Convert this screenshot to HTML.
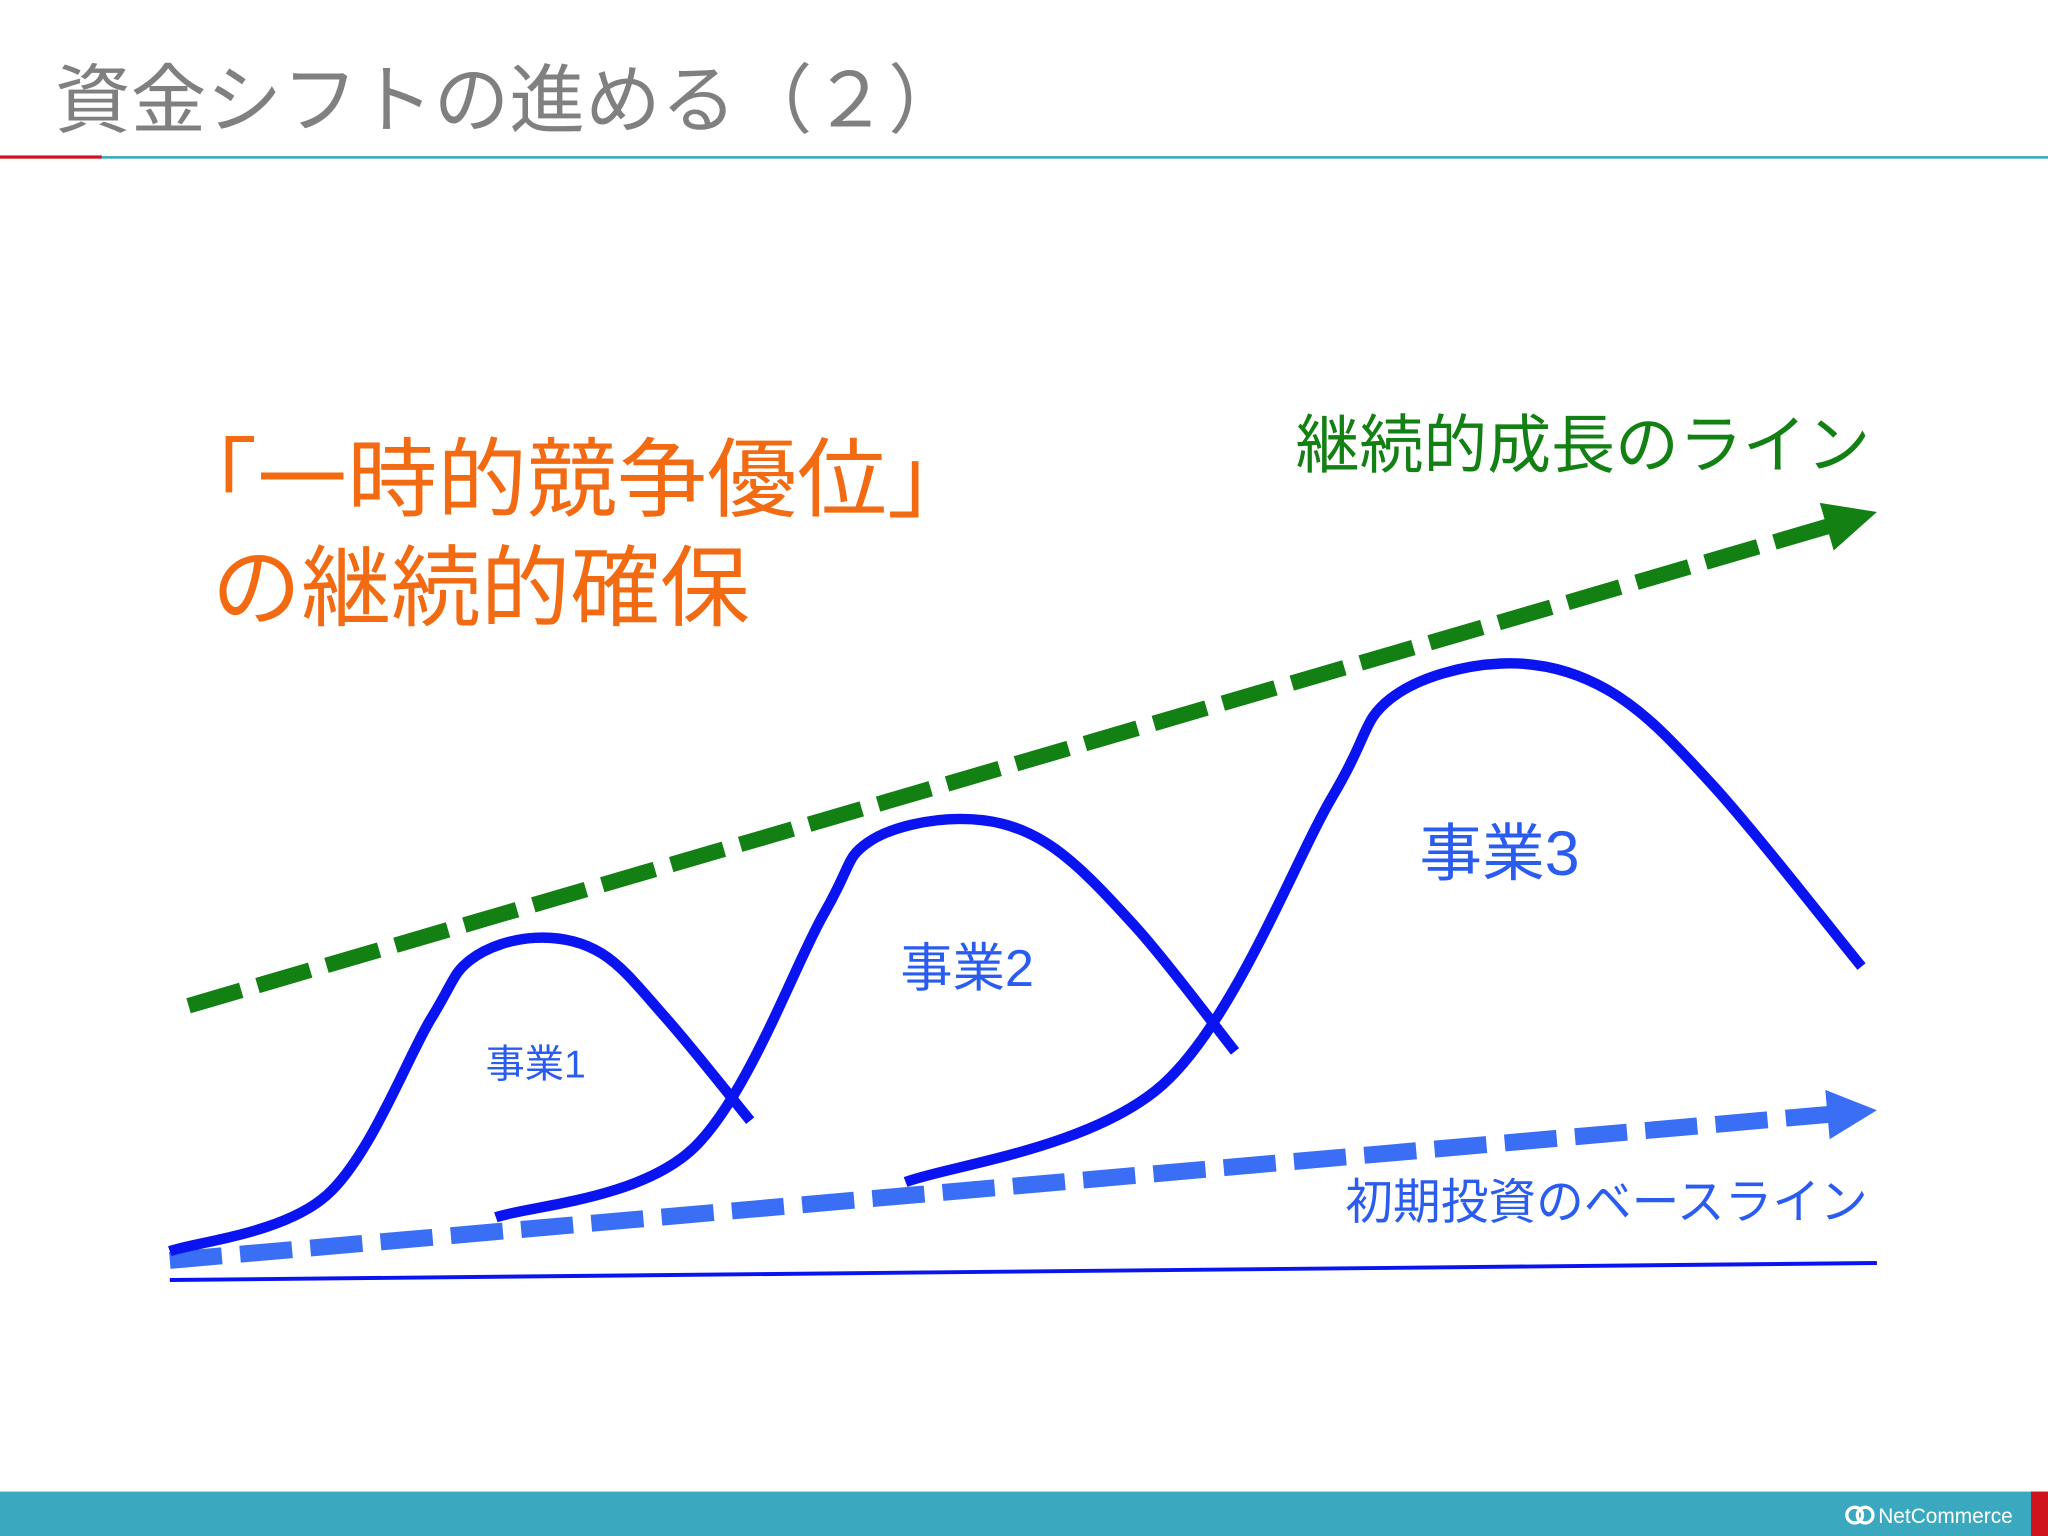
<!DOCTYPE html>
<html><head><meta charset="utf-8">
<style>
html,body{margin:0;padding:0;background:#fff;}
#wrap{position:relative;width:2048px;height:1536px;overflow:hidden;font-family:"Liberation Sans","Noto Sans CJK JP",sans-serif;}
svg{position:absolute;left:0;top:0;}
</style></head>
<body>
<div id="wrap">
<svg id="chart" width="2048" height="1536" viewBox="0 0 1568 1176">
  <text x="42" y="97" font-size="58" fill="#808080" font-family="Liberation Sans, Noto Sans CJK JP, sans-serif">資金シフトの進める（２）</text>
  <rect x="0" y="119" width="78" height="2.5" fill="#d0141e"/>
  <rect x="78" y="119.5" width="1490" height="2" fill="#3aa9bf"/>
  <rect x="0" y="1142" width="1568" height="34" fill="#3aa9bf"/>
  <rect x="1555" y="1142" width="13" height="34" fill="#d0141e"/>
  <g>
    <circle cx="1420" cy="1160" r="6" fill="none" stroke="#fff" stroke-width="2.5"/>
    <circle cx="1428" cy="1160" r="6" fill="none" stroke="#fff" stroke-width="2.5"/>
    <text x="1438" y="1166" font-size="16" fill="#fff" font-family="Liberation Sans, sans-serif">NetCommerce</text>
  </g>
  <text x="128" y="390" font-size="66" fill="#f26a12" font-family="Liberation Sans, Noto Sans CJK JP, sans-serif" textLength="620" lengthAdjust="spacingAndGlyphs">「一時的競争優位」</text>
  <text x="162" y="474" font-size="68" fill="#f26a12" font-family="Liberation Sans, Noto Sans CJK JP, sans-serif" textLength="412" lengthAdjust="spacingAndGlyphs">の継続的確保</text>
  <text x="992" y="358" font-size="49" fill="#128012" font-family="Liberation Sans, Noto Sans CJK JP, sans-serif" textLength="440" lengthAdjust="spacingAndGlyphs">継続的成長のライン</text>
  <text x="1030" y="933" font-size="37" fill="#2a5cf0" font-family="Liberation Sans, Noto Sans CJK JP, sans-serif" textLength="400" lengthAdjust="spacingAndGlyphs">初期投資のベースライン</text>
  <g id="marks"></g>
</svg>
</div>
<script>
// data (t: time 0..100, v: value 0..100)
const curve1T = [0, 9.2, 15.3, 17.6, 21.4, 25.3, 29.1, 34];
const curve1V = [4.4, 13, 40, 49, 52.4, 50, 40, 24.4];
const curve2T = [19.1, 30.6, 38.3, 40.9, 46.3, 51.3, 56.6, 62.4];
const curve2V = [9.6, 20, 56, 67, 70.6, 67, 54, 35];
const curve3T = [43.1, 58.2, 68.1, 71.5, 78, 84.2, 90.3, 99.1];
const curve3V = [15, 30, 74, 89, 94.4, 90.4, 76, 48];
const growthT = [1.1, 100];
const growthV = [42, 117.6];
const baseT = [0, 100];
const baseV = [3, 26];
const axisT = [0, 100];
const axisV = [0, 2.6];
const curveLabels = ['事業1', '事業2', '事業3'];
const labelT = [18.5, 42.8, 73.2];
const labelV = [31, 45, 62];
const labelSizes = [30, 40, 48];

const sx = t => 130 + t * 13.07;
const sy = v => 980 - v * 5;
const NS = 'http://www.w3.org/2000/svg';
const g = document.getElementById('marks');

function smooth(T, V) {
  const p = T.map((t, i) => [sx(t), sy(V[i])]);
  let d = 'M' + p[0][0] + ',' + p[0][1];
  for (let i = 0; i < p.length - 1; i++) {
    const p0 = p[i - 1] || p[i], p1 = p[i], p2 = p[i + 1], p3 = p[i + 2] || p2;
    const c1 = [p1[0] + (p2[0] - p0[0]) / 6, p1[1] + (p2[1] - p0[1]) / 6];
    const c2 = [p2[0] - (p3[0] - p1[0]) / 6, p2[1] - (p3[1] - p1[1]) / 6];
    d += ' C' + c1 + ' ' + c2 + ' ' + p2;
  }
  return d;
}
function arrow(T, V, color, w, dash, name, headLen, headW) {
  const x1 = sx(T[0]), y1 = sy(V[0]), x2 = sx(T[1]), y2 = sy(V[1]);
  const L = Math.hypot(x2 - x1, y2 - y1), ux = (x2 - x1) / L, uy = (y2 - y1) / L;
  const bx = x2 - ux * headLen, by = y2 - uy * headLen;
  const ln = document.createElementNS(NS, 'line');
  
  
  ln.setAttribute('x1', x1); ln.setAttribute('y1', y1);
  ln.setAttribute('x2', bx + ux * 2); ln.setAttribute('y2', by + uy * 2);
  ln.setAttribute('stroke', color); ln.setAttribute('stroke-width', w);
  ln.setAttribute('stroke-dasharray', dash);
  g.appendChild(ln);
  const hd = document.createElementNS(NS, 'polygon');
  
  
  hd.setAttribute('points', [x2, y2, bx - uy * headW, by + ux * headW, bx + uy * headW, by - ux * headW].join(','));
  hd.setAttribute('fill', color);
  g.appendChild(hd);
}
const ax = document.createElementNS(NS, 'line');


ax.setAttribute('x1', sx(axisT[0])); ax.setAttribute('y1', sy(axisV[0]));
ax.setAttribute('x2', sx(axisT[1])); ax.setAttribute('y2', sy(axisV[1]));
ax.setAttribute('stroke', '#0a14f0'); ax.setAttribute('stroke-width', 3);
g.appendChild(ax);

arrow(baseT, baseV, '#3a6ef5', 13, '40 14', 'baseline-arrow', 38, 19);
arrow(growthT, growthV, '#138013', 12, '42 13', 'growth-arrow', 40, 19);

[[curve1T, curve1V], [curve2T, curve2V], [curve3T, curve3V]].forEach((c, i) => {
  const p = document.createElementNS(NS, 'path');
  
  
  p.setAttribute('d', smooth(c[0], c[1]));
  p.setAttribute('fill', 'none');
  p.setAttribute('stroke', '#0a14f0');
  p.setAttribute('stroke-width', 8);
  g.appendChild(p);
});
curveLabels.forEach((s, i) => {
  const t = document.createElementNS(NS, 'text');
  
  
  t.setAttribute('x', sx(labelT[i]));
  t.setAttribute('y', sy(labelV[i]));
  t.setAttribute('font-size', labelSizes[i]);
  t.setAttribute('fill', '#2a5cf0');
  t.setAttribute('font-family', 'Liberation Sans, Noto Sans CJK JP, sans-serif');
  t.textContent = s;
  g.appendChild(t);
});
</script>
</body></html>
